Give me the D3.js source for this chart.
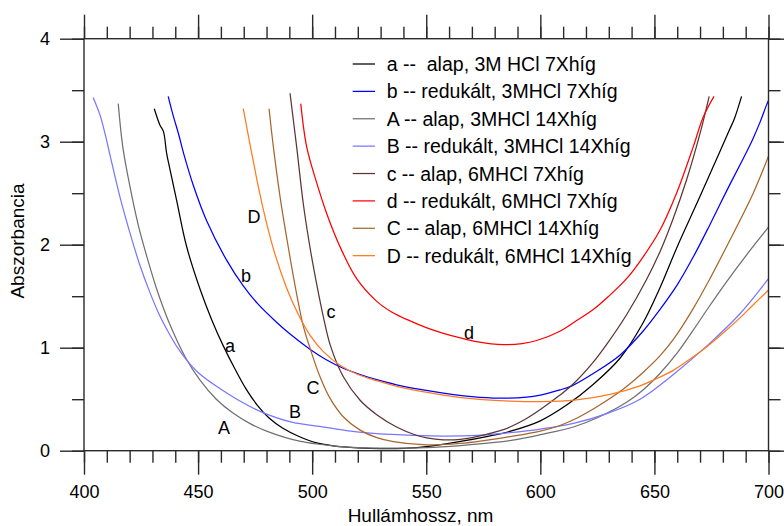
<!DOCTYPE html>
<html><head><meta charset="utf-8">
<script src="https://cdn.jsdelivr.net/npm/d3@7"></script>
<style>
body{margin:0;background:#fff}
svg{display:block}
text{font-family:"Liberation Sans",Arial,Helvetica,sans-serif;fill:#000}
</style>
</head><body>
<svg id="chart" width="784" height="526"></svg>
<script>
// ---------- data (wavelength nm, absorbance) ----------
const xTickLabels = [400, 450, 500, 550, 600, 650, 700];
const yTickLabels = [0, 1, 2, 3, 4];
const xTitle = "Hullámhossz, nm";
const yTitle = "Abszorbancia";

const seriesNames = ["a", "b", "A", "B", "c", "d", "C", "D"];
const legendLabels = [
  "a --  alap, 3M HCl 7Xhíg",
  "b -- redukált, 3MHCl 7Xhíg",
  "A -- alap, 3MHCl 14Xhíg",
  "B -- redukált, 3MHCl 14Xhíg",
  "c -- alap, 6MHCl 7Xhíg",
  "d -- redukált, 6MHCl 7Xhíg",
  "C -- alap, 6MHCl 14Xhíg",
  "D -- redukált, 6MHCl 14Xhíg"
];

const series_a = [[430.8,3.32],[433.3,3.16],[434.8,3.10],[436.2,2.89],[437.7,2.73],[440.6,2.43],[445,1.98],[451,1.56],[456,1.27],[461,1.02],[466,0.80],[471,0.60],[476,0.44],[481,0.32],[487,0.22],[494,0.14],[502,0.075],[510,0.045],[520,0.028],[530,0.02],[540,0.022],[552,0.045],[565,0.09],[577,0.14],[587,0.19],[600,0.29],[612,0.45],[623,0.64],[635,0.90],[645,1.24],[652,1.56],[660,1.98],[670,2.47],[679,2.92],[683,3.12],[685,3.22],[688.2,3.44]];
const series_b = [[436.9,3.44],[439,3.26],[441.5,3.07],[444,2.86],[448,2.57],[453.8,2.23],[462.5,1.85],[469.8,1.60],[476,1.43],[484.5,1.245],[491,1.12],[499,0.985],[506,0.885],[513.6,0.80],[521,0.74],[528.3,0.69],[540,0.625],[557.5,0.56],[570,0.525],[582,0.51],[594,0.52],[600,0.54],[608.6,0.59],[613.8,0.63],[623.2,0.75],[635,0.93],[645,1.16],[652.4,1.37],[660,1.61],[667,1.88],[674,2.18],[681.6,2.52],[689,2.84],[693,3.02],[696.3,3.19],[699.2,3.36],[700,3.40]];
const series_A = [[415,3.37],[417,2.95],[420,2.58],[424,2.17],[428,1.85],[432,1.56],[437,1.26],[444.6,0.90],[451,0.68],[458,0.50],[465,0.37],[473,0.26],[480,0.19],[488,0.13],[495,0.09],[502,0.065],[510,0.045],[520,0.03],[535,0.025],[550,0.03],[565,0.05],[580,0.08],[590,0.11],[600,0.155],[614.5,0.23],[625,0.32],[637.8,0.47],[645,0.59],[652.4,0.75],[660,0.95],[667,1.17],[674,1.40],[681.6,1.64],[690,1.89],[700,2.17]];
const series_B = [[404,3.43],[407,3.26],[409.2,3.08],[411.4,2.87],[415.8,2.46],[420.2,2.11],[424.5,1.80],[429,1.53],[433,1.32],[437,1.15],[441,1.00],[445,0.88],[450,0.76],[458.4,0.62],[467,0.50],[477.4,0.38],[490.6,0.28],[505.2,0.23],[515,0.195],[528.3,0.165],[545,0.148],[557.5,0.142],[572,0.148],[586.7,0.175],[600,0.21],[614.5,0.265],[629.1,0.36],[643.7,0.50],[658.3,0.74],[673.6,1.03],[687.5,1.33],[700,1.67]];
const series_c = [[490.3,3.47],[493.2,2.95],[496.1,2.40],[499,1.98],[502.3,1.58],[504.9,1.30],[508,1.02],[513.6,0.72],[521,0.49],[528.3,0.35],[537,0.23],[545,0.155],[550.2,0.125],[557.5,0.105],[565,0.11],[572.1,0.136],[580,0.18],[586.7,0.23],[593,0.30],[600,0.40],[608.6,0.54],[614.5,0.65],[623.2,0.86],[629,1.03],[637.8,1.32],[646.5,1.66],[652.4,1.93],[658,2.24],[664.1,2.63],[670,3.08],[674,3.44]];
const series_d = [[495,3.37],[497.6,2.95],[502,2.60],[506.4,2.30],[512.2,1.98],[519.5,1.67],[528.3,1.45],[535,1.345],[542.9,1.26],[550,1.195],[557.5,1.14],[565,1.095],[572,1.06],[583.8,1.03],[592,1.04],[598.4,1.07],[608.6,1.16],[615,1.25],[623.2,1.37],[630,1.50],[637.8,1.67],[645,1.88],[652.4,2.14],[659.7,2.50],[667,2.95],[671.4,3.24],[676.1,3.44]];
const series_C = [[481.1,3.32],[483,2.95],[485.9,2.47],[489.5,1.98],[493.2,1.52],[496,1.22],[499,1.00],[503.4,0.72],[507.8,0.51],[513.6,0.33],[521,0.20],[528,0.13],[535.6,0.088],[550.2,0.056],[564.8,0.07],[576,0.10],[586.7,0.136],[600,0.19],[608.6,0.245],[614.5,0.30],[625,0.43],[636.4,0.60],[645,0.76],[652.4,0.92],[658.3,1.08],[667,1.38],[673.6,1.64],[681.6,1.98],[693.3,2.50],[700,2.86]];
const series_D = [[469.8,3.32],[472.8,2.97],[475.7,2.64],[478.6,2.34],[483,1.96],[488.8,1.58],[494,1.32],[499.1,1.12],[505,0.96],[512.2,0.83],[520,0.74],[528.3,0.68],[540,0.61],[557.5,0.54],[572,0.50],[586.7,0.482],[600,0.476],[615,0.49],[631,0.55],[643.7,0.63],[650,0.69],[658.3,0.78],[665,0.88],[673,1.01],[680,1.14],[687.5,1.29],[693,1.41],[700,1.56]];

const seriesValues = [series_a, series_b, series_A, series_B, series_c, series_d, series_C, series_D];
const seriesColors = ["#000000", "#0000ff", "#707070", "#7777ff", "#5e3434", "#ff0000", "#a8662c", "#ff7a1e"];

// curve labels anchored in data space (nm, absorbance)
const curveLabelText = ["a", "b", "A", "B", "c", "d", "C", "D"];
const curveLabelAt = [[464.0,1.02],[471.0,1.70],[461.4,0.22],[492.5,0.38],[508.3,1.35],[568.7,1.14],[500.4,0.61],[474.5,2.27]];

// ---------- drawing ----------
const svg = d3.select("#chart");
const x = d3.scaleLinear().domain([400, 700]).range([84, 768.5]);
const y = d3.scaleLinear().domain([0, 4]).range([450.7, 38.7]);
const axisColor = "#2a2a2a";
const major = 24, minor = 12;

svg.append("defs").append("clipPath").attr("id", "plotclip")
  .append("rect").attr("x", x(400)).attr("y", y(4)).attr("width", x(700) - x(400)).attr("height", y(0) - y(4));

// curves
const line = d3.line().x(d => x(d[0])).y(d => y(d[1])).curve(d3.curveCatmullRom.alpha(0.5));
const curves = svg.append("g").attr("clip-path", "url(#plotclip)");
seriesValues.forEach((s, i) => {
  curves.append("path").attr("d", line(s)).attr("fill", "none")
    .attr("stroke", seriesColors[i]).attr("stroke-width", 1.25);
});

// axes (ticks outward on all four sides)
function styleAxis(g) {
  g.selectAll("path,line").attr("stroke", axisColor).attr("stroke-width", 1.4);
  g.select(".domain").remove();
}
const xMinor = d3.range(400, 701, 10);
const yMinor = d3.range(0, 4.01, 0.5);

const gB = svg.append("g").attr("transform", `translate(0,${y(0)})`);
gB.call(d3.axisBottom(x).tickValues(xMinor).tickSize(minor).tickFormat(""));
styleAxis(gB);
const gB2 = svg.append("g").attr("transform", `translate(0,${y(0)})`);
gB2.call(d3.axisBottom(x).tickValues(xTickLabels).tickSize(major).tickPadding(8).tickFormat(d3.format("d")));
styleAxis(gB2);
gB2.selectAll("text").attr("font-size", 18).attr("fill", "#000").attr("dy", "0.85em")
  .attr("font-family", '"Liberation Sans",Arial,sans-serif');

const gT = svg.append("g").attr("transform", `translate(0,${y(4)})`);
gT.call(d3.axisTop(x).tickValues(xMinor).tickSize(minor).tickFormat(""));
styleAxis(gT);
const gT2 = svg.append("g").attr("transform", `translate(0,${y(4)})`);
gT2.call(d3.axisTop(x).tickValues(xTickLabels).tickSize(major).tickFormat(""));
styleAxis(gT2);

const gL = svg.append("g").attr("transform", `translate(${x(400)},0)`);
gL.call(d3.axisLeft(y).tickValues(yMinor).tickSize(minor).tickFormat(""));
styleAxis(gL);
const gL2 = svg.append("g").attr("transform", `translate(${x(400)},0)`);
gL2.call(d3.axisLeft(y).tickValues(yTickLabels).tickSize(major).tickPadding(10).tickFormat(d3.format("d")));
styleAxis(gL2);
gL2.selectAll("text").attr("font-size", 18).attr("fill", "#000")
  .attr("font-family", '"Liberation Sans",Arial,sans-serif');

const gR = svg.append("g").attr("transform", `translate(${x(700)},0)`);
gR.call(d3.axisRight(y).tickValues(yMinor).tickSize(minor).tickFormat(""));
styleAxis(gR);
const gR2 = svg.append("g").attr("transform", `translate(${x(700)},0)`);
gR2.call(d3.axisRight(y).tickValues(yTickLabels).tickSize(major).tickFormat(""));
styleAxis(gR2);

// frame lines
svg.append("rect").attr("x", x(400)).attr("y", y(4)).attr("width", x(700) - x(400)).attr("height", y(0) - y(4))
  .attr("fill", "none").attr("stroke", axisColor).attr("stroke-width", 1.4);

// curve labels
svg.append("g").selectAll("text").data(curveLabelText).join("text")
  .attr("x", (d, i) => x(curveLabelAt[i][0])).attr("y", (d, i) => y(curveLabelAt[i][1]))
  .attr("text-anchor", "middle").attr("dominant-baseline", "central")
  .attr("font-size", 18).text(d => d);

// legend
const legY0 = 64, legStep = 27.38;
const leg = svg.append("g");
legendLabels.forEach((t, i) => {
  const yy = legY0 + i * legStep;
  leg.append("line").attr("x1", 352.7).attr("x2", 375).attr("y1", yy).attr("y2", yy)
    .attr("stroke", seriesColors[i]).attr("stroke-width", 1.25);
  leg.append("text").attr("x", 386.7).attr("y", yy).attr("dominant-baseline", "central")
    .attr("font-size", 19.5).style("white-space", "pre").text(t);
});

// axis titles
svg.append("text").attr("x", 420.5).attr("y", 522).attr("text-anchor", "middle")
  .attr("font-size", 19).text(xTitle);
svg.append("text").attr("transform", `translate(24,241) rotate(-90)`)
  .attr("text-anchor", "middle").attr("font-size", 19).text(yTitle);
</script>
</body></html>
